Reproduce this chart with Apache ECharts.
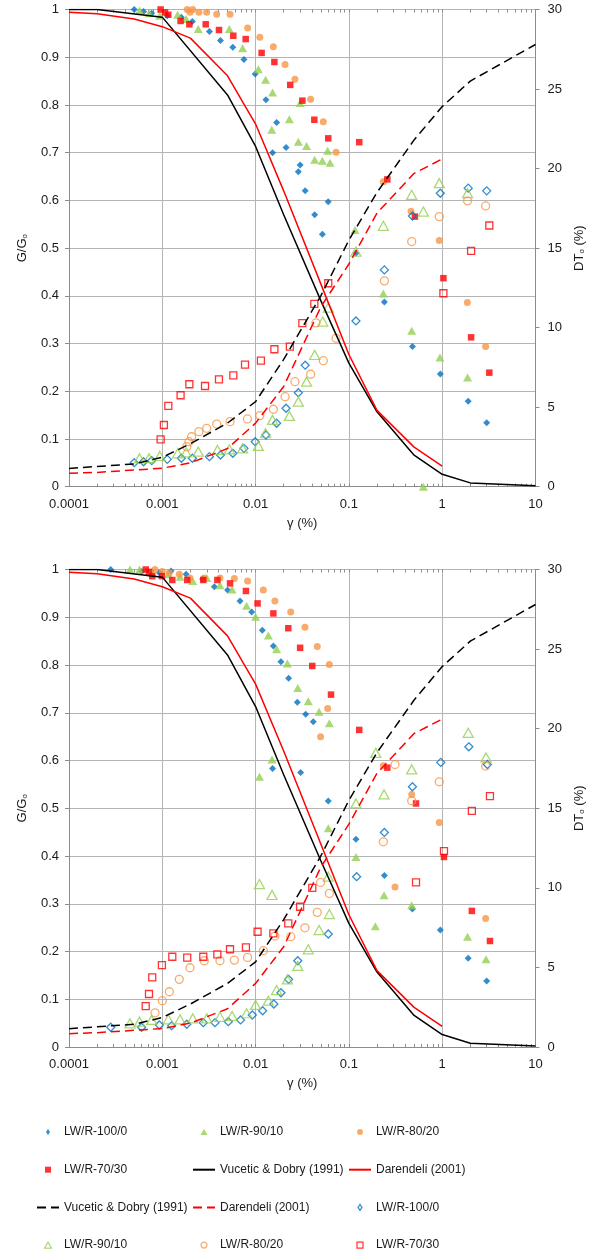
<!DOCTYPE html>
<html>
<head>
<meta charset="utf-8">
<title>G/Go and DTo vs shear strain</title>
<script src="https://cdn.jsdelivr.net/npm/echarts@6/dist/echarts.min.js"></script>
<style>
  html, body { margin: 0; padding: 0; background: #fff; }
  #chart { width: 596px; height: 1255px; }
</style>
</head>
<body>
<div id="chart"></div>
<script>
// axis ticks
var xTicks = [0.0001, 0.001, 0.01, 0.1, 1, 10]
var minorSteps = [2, 3, 4, 5, 6, 7, 8, 9]

// reference curves (shared by both panels)
var vdGStrain = [0.0001, 0.0002, 0.001, 0.005, 0.01, 0.02, 0.05, 0.1, 0.2, 0.5, 1, 2, 10]
var vdG = [1.0, 1.0, 0.984, 0.821, 0.713, 0.57, 0.39, 0.259, 0.157, 0.066, 0.026, 0.008, 0.002]
var vdDStrain = [0.0001, 0.0005, 0.001, 0.002, 0.005, 0.01, 0.02, 0.05, 0.1, 0.2, 0.5, 1, 2, 10]
var vdD = [1.15, 1.43, 1.85, 2.7, 4.0, 5.35, 8.0, 12.0, 15.5, 18.5, 21.8, 23.9, 25.5, 27.8]
var darStrain = [0.0001, 0.0002, 0.0005, 0.001, 0.002, 0.005, 0.01, 0.02, 0.05, 0.1, 0.2, 0.5, 1]
var darG = [0.994, 0.991, 0.980, 0.964, 0.940, 0.861, 0.760, 0.62, 0.425, 0.277, 0.16, 0.083, 0.043]
var darD = [0.84, 0.9, 1.05, 1.16, 1.5, 2.4, 4.0, 6.3, 11.3, 14.0, 17.2, 19.7, 20.6]

// top panel: [strain %, G/Go] and [strain %, DTo %]
var topG100 = [[0.0005, 1.0], [0.00063, 0.996], [0.00077, 0.992], [0.00113, 0.987], [0.0016, 0.984], [0.0021, 0.975], [0.0032, 0.954], [0.0042, 0.935], [0.0057, 0.921], [0.0075, 0.895], [0.0099, 0.865], [0.0129, 0.811], [0.0168, 0.763], [0.0152, 0.700], [0.0212, 0.711], [0.0287, 0.660], [0.030, 0.674], [0.034, 0.620], [0.043, 0.570], [0.052, 0.529], [0.060, 0.597], [0.119, 0.489], [0.24, 0.387], [0.48, 0.294], [0.955, 0.236], [1.9, 0.179], [3.0, 0.134]]
var topG90 = [[0.00057, 0.998], [0.00072, 0.992], [0.00094, 0.987], [0.00146, 0.989], [0.0018, 0.980], [0.00243, 0.959], [0.00523, 0.959], [0.00726, 0.919], [0.0107, 0.875], [0.0128, 0.853], [0.0152, 0.826], [0.0149, 0.748], [0.023, 0.770], [0.0287, 0.723], [0.030, 0.804], [0.0352, 0.714], [0.043, 0.685], [0.0519, 0.683], [0.0592, 0.704], [0.0627, 0.679], [0.116, 0.538], [0.234, 0.405], [0.471, 0.327], [0.628, 0.0], [0.946, 0.271], [1.87, 0.229]]
var topG80 = [[0.00185, 1.0], [0.00198, 0.994], [0.00212, 1.0], [0.00247, 0.994], [0.00299, 0.994], [0.00383, 0.990], [0.00532, 0.990], [0.00822, 0.961], [0.0111, 0.942], [0.0155, 0.922], [0.0207, 0.885], [0.0264, 0.854], [0.0389, 0.812], [0.0532, 0.765], [0.0728, 0.701], [0.234, 0.639], [0.463, 0.577], [0.93, 0.516], [1.86, 0.386], [2.92, 0.294]]
var topG70 = [[0.00096, 1.0], [0.00107, 0.994], [0.00116, 0.989], [0.00157, 0.976], [0.00195, 0.969], [0.00292, 0.969], [0.00405, 0.957], [0.00577, 0.945], [0.00783, 0.938], [0.0116, 0.909], [0.0159, 0.890], [0.0235, 0.842], [0.0317, 0.809], [0.0426, 0.769], [0.0601, 0.730], [0.129, 0.722], [0.258, 0.644], [0.51, 0.566], [1.03, 0.437], [2.04, 0.313], [3.2, 0.239]]
var topD100 = [[0.0005, 1.51], [0.00063, 1.57], [0.00077, 1.64], [0.00113, 1.72], [0.0016, 1.79], [0.0021, 1.79], [0.0032, 1.89], [0.0042, 1.99], [0.0057, 2.1], [0.0075, 2.41], [0.0099, 2.83], [0.0129, 3.25], [0.0168, 3.99], [0.0212, 4.93], [0.0287, 5.91], [0.034, 7.64], [0.119, 10.42], [0.24, 13.63], [0.48, 17.02], [0.955, 18.45], [1.9, 18.77], [3.0, 18.6]]
var topD90 = [[0.00057, 1.79], [0.00072, 1.79], [0.00094, 1.93], [0.00146, 2.1], [0.0018, 2.16], [0.00243, 2.2], [0.0039, 2.31], [0.00523, 2.35], [0.00726, 2.41], [0.0107, 2.56], [0.0128, 3.36], [0.0152, 4.2], [0.023, 4.45], [0.0287, 5.35], [0.0352, 6.6], [0.043, 8.28], [0.0524, 10.38], [0.0601, 11.26], [0.119, 14.78], [0.234, 16.4], [0.471, 18.35], [0.628, 17.3], [0.93, 19.08], [1.87, 18.45]]
var topD80 = [[0.00183, 2.52], [0.00193, 2.83], [0.00206, 3.14], [0.00247, 3.46], [0.00299, 3.67], [0.00383, 3.94], [0.00532, 4.09], [0.00817, 4.26], [0.0111, 4.47], [0.0155, 4.87], [0.0207, 5.66], [0.0264, 6.6], [0.0389, 7.07], [0.0444, 10.3], [0.0532, 7.92], [0.0728, 9.33], [0.24, 12.94], [0.471, 15.41], [0.93, 16.98], [1.87, 17.97], [2.92, 17.65]]
var topD70 = [[0.00096, 2.98], [0.00104, 3.88], [0.00116, 5.08], [0.00157, 5.75], [0.00195, 6.44], [0.00287, 6.33], [0.00405, 6.75], [0.00577, 7.0], [0.0077, 7.67], [0.0114, 7.92], [0.0159, 8.64], [0.0233, 8.8], [0.0317, 10.28], [0.0426, 11.49], [0.0601, 12.79], [1.03, 12.16], [2.04, 14.82], [3.2, 16.42]]

// bottom panel
var botG100 = [[0.00028, 1.0], [0.0006, 0.996], [0.00093, 0.993], [0.00124, 0.997], [0.0018, 0.99], [0.0027, 0.98], [0.00361, 0.964], [0.00501, 0.957], [0.0068, 0.934], [0.00908, 0.911], [0.0118, 0.873], [0.0155, 0.840], [0.0187, 0.807], [0.0226, 0.772], [0.028, 0.722], [0.0152, 0.583], [0.0304, 0.575], [0.0344, 0.697], [0.0415, 0.681], [0.0601, 0.515], [0.119, 0.435], [0.24, 0.359], [0.479, 0.289], [0.955, 0.245], [1.9, 0.186], [3.0, 0.138]]
var botG90 = [[0.00045, 1.0], [0.00057, 1.0], [0.00077, 0.993], [0.00116, 0.99], [0.00155, 0.985], [0.00212, 0.976], [0.003, 0.982], [0.00415, 0.967], [0.0056, 0.958], [0.008, 0.924], [0.01, 0.901], [0.0137, 0.862], [0.0168, 0.833], [0.0219, 0.803], [0.0283, 0.752], [0.011, 0.566], [0.015, 0.602], [0.0367, 0.724], [0.0479, 0.702], [0.0617, 0.678], [0.0601, 0.458], [0.119, 0.398], [0.192, 0.253], [0.238, 0.318], [0.471, 0.297], [1.87, 0.231], [2.95, 0.184]]
var botG80 = [[0.000835, 1.0], [0.001, 0.996], [0.00119, 0.993], [0.00152, 0.99], [0.00198, 0.982], [0.0028, 0.982], [0.00415, 0.982], [0.00592, 0.981], [0.0082, 0.976], [0.0121, 0.957], [0.0161, 0.934], [0.0238, 0.911], [0.0338, 0.879], [0.0458, 0.839], [0.0617, 0.801], [0.0592, 0.709], [0.0497, 0.650], [0.234, 0.589], [0.312, 0.335], [0.471, 0.529], [0.93, 0.470], [2.92, 0.269]]
var botG70 = [[0.000664, 1.0], [0.00072, 0.995], [0.00078, 0.986], [0.00099, 0.986], [0.00128, 0.978], [0.00185, 0.978], [0.00275, 0.978], [0.00389, 0.978], [0.00532, 0.971], [0.00788, 0.955], [0.0105, 0.929], [0.0155, 0.908], [0.0224, 0.877], [0.03, 0.836], [0.0405, 0.798], [0.0643, 0.738], [0.129, 0.664], [0.258, 0.585], [0.524, 0.510], [1.045, 0.398], [2.08, 0.285], [3.25, 0.222]]
var botD100 = [[0.00028, 1.24], [0.0006, 1.24], [0.00093, 1.38], [0.00126, 1.34], [0.00183, 1.43], [0.00275, 1.53], [0.00367, 1.53], [0.0051, 1.59], [0.0069, 1.70], [0.00922, 2.01], [0.0119, 2.28], [0.0157, 2.7], [0.0187, 3.41], [0.0226, 4.25], [0.0283, 5.42], [0.0601, 7.1], [0.121, 10.7], [0.24, 13.48], [0.48, 16.35], [0.965, 17.88], [1.93, 18.86], [3.05, 17.75]]
var botD90 = [[0.00045, 1.49], [0.00057, 1.59], [0.00077, 1.7], [0.00116, 1.74], [0.00155, 1.74], [0.00212, 1.8], [0.003, 1.8], [0.00415, 1.9], [0.0056, 1.95], [0.008, 2.12], [0.01, 2.64], [0.0137, 2.91], [0.0168, 3.58], [0.0219, 4.25], [0.0283, 5.09], [0.011, 10.24], [0.015, 9.55], [0.0367, 6.14], [0.0479, 7.35], [0.0617, 8.35], [0.0601, 10.7], [0.119, 15.3], [0.194, 18.48], [0.238, 15.87], [0.471, 17.44], [1.9, 19.74], [2.95, 18.19]]
var botD80 = [[0.000835, 2.15], [0.001, 2.91], [0.00119, 3.47], [0.00152, 4.25], [0.00198, 4.98], [0.00282, 5.42], [0.00415, 5.42], [0.00592, 5.46], [0.0082, 5.63], [0.0121, 6.05], [0.0161, 6.97], [0.0238, 6.93], [0.0338, 7.49], [0.0458, 8.46], [0.0617, 9.65], [0.0497, 10.34], [0.234, 12.89], [0.312, 17.75], [0.471, 15.47], [0.93, 16.66], [2.92, 17.65]]
var botD70 = [[0.000664, 2.57], [0.00072, 3.33], [0.00078, 4.38], [0.00099, 5.15], [0.00128, 5.67], [0.00185, 5.61], [0.00275, 5.67], [0.00389, 5.82], [0.00532, 6.14], [0.00788, 6.26], [0.0105, 7.24], [0.0155, 7.14], [0.0224, 7.77], [0.03, 8.81], [0.0405, 10.0], [0.524, 10.34], [1.045, 12.31], [2.08, 14.84], [3.25, 15.76]]

var FONT = 'Liberation Sans'
var TEXT = '#1a1a1a'
var GRID_LINE = '#b4b4b4'
var AXIS_LINE = '#8c8c8c'

// all tick positions on the strain axis (decades + 2..9)
var allTicks = xTicks.slice()
xTicks.slice(0, -1).forEach(function (d) {
  minorSteps.forEach(function (m) { allTicks.push(+(d * m).toPrecision(3)) })
})

function pairs (xs, ys) {
  return xs.map(function (x, i) { return [x, ys[i]] })
}

function tickAxis (gi, inside) {
  return {
    gridIndex: gi,
    type: 'log',
    logBase: 10,
    min: 0.0001,
    max: 10,
    axisLine: { show: false },
    axisTick: { show: true, customValues: allTicks, length: 3, inside: inside, lineStyle: { color: AXIS_LINE } },
    axisLabel: { show: false },
    splitLine: { show: false }
  }
}

function xAxes (gi) {
  return [{
    gridIndex: gi,
    type: 'log',
    logBase: 10,
    min: 0.0001,
    max: 10,
    name: 'γ (%)',
    nameLocation: 'middle',
    nameGap: 30,
    nameTextStyle: { fontFamily: FONT, fontSize: 13, color: TEXT },
    axisLine: { lineStyle: { color: AXIS_LINE } },
    axisTick: { show: false },
    axisLabel: {
      fontFamily: FONT, fontSize: 13, color: TEXT, margin: 11,
      formatter: function (v) { return String(+(+v).toPrecision(1)) }
    },
    splitLine: { show: true, lineStyle: { color: GRID_LINE } }
  }, tickAxis(gi, false), tickAxis(gi, true)]
}

function yAxes (gi) {
  return [{
    gridIndex: gi,
    type: 'value',
    min: 0,
    max: 1,
    interval: 0.1,
    position: 'left',
    name: 'G/G{s|o}',
    nameLocation: 'middle',
    nameGap: 40,
    nameTextStyle: {
      fontFamily: FONT, fontSize: 13, color: TEXT,
      rich: { s: { fontFamily: FONT, fontSize: 8, color: TEXT, verticalAlign: 'bottom', padding: [5, 0, 0, 0] } }
    },
    axisLine: { show: true, lineStyle: { color: AXIS_LINE } },
    axisTick: { show: true, length: 4, lineStyle: { color: AXIS_LINE } },
    axisLabel: {
      fontFamily: FONT, fontSize: 13, color: TEXT, margin: 10,
      formatter: function (v) { return String(Math.round(v * 10) / 10) }
    },
    splitLine: { show: true, lineStyle: { color: GRID_LINE } }
  }, {
    gridIndex: gi,
    type: 'value',
    min: 0,
    max: 30,
    interval: 5,
    position: 'right',
    name: 'DT{s|o} (%)',
    nameLocation: 'middle',
    nameGap: 36,
    nameTextStyle: {
      fontFamily: FONT, fontSize: 13, color: TEXT,
      rich: { s: { fontFamily: FONT, fontSize: 8, color: TEXT, verticalAlign: 'bottom', padding: [5, 0, 0, 0] } }
    },
    axisLine: { show: true, lineStyle: { color: AXIS_LINE } },
    axisTick: { show: true, length: 4, lineStyle: { color: AXIS_LINE } },
    axisLabel: { fontFamily: FONT, fontSize: 13, color: TEXT, margin: 12 },
    splitLine: { show: false }
  }]
}

var markers = {
  '100/0': { symbol: 'diamond', color: '#0070c0', size: [7, 7], hsize: [8, 8], icon: 'path://M2,0L4,3L2,6L0,3Z' },
  '90/10': { symbol: 'triangle', color: '#92d050', size: [9, 8], hsize: [10, 9], icon: 'path://M3.5,0L7,6L0,6Z' },
  '80/20': { symbol: 'circle', color: '#f79646', size: 7, hsize: 8, icon: 'path://M3,0A3,3,0,1,1,3,6A3,3,0,1,1,3,0Z' },
  '70/30': { symbol: 'rect', color: '#ff0000', size: 6.5, hsize: 7, icon: 'path://M0,0H6V6H0Z' }
}

function dots (name, key, data, xi, yi, hollow) {
  var m = markers[key]
  return {
    name: name,
    type: 'scatter',
    xAxisIndex: xi,
    yAxisIndex: yi,
    data: data,
    symbol: m.symbol,
    symbolSize: hollow ? m.hsize : m.size,
    itemStyle: hollow
      ? { color: 'rgba(255,255,255,0)', borderColor: m.color, borderWidth: 1.3 }
      : { color: m.color, borderWidth: 0 },
    silent: true
  }
}

function curve (name, data, xi, yi, color, dashed) {
  return {
    name: name,
    type: 'line',
    xAxisIndex: xi,
    yAxisIndex: yi,
    data: data,
    symbol: 'none',
    lineStyle: { color: color, width: 1.5, type: dashed ? [9, 5] : 'solid' },
    itemStyle: { color: color },
    silent: true
  }
}

function panel (p, g) {
  var xi = p * 3
  var yl = p * 2
  var yr = p * 2 + 1
  return [
    dots('LW/R-100/0', '100/0', g[0], xi, yl, false),
    dots('LW/R-90/10', '90/10', g[1], xi, yl, false),
    dots('LW/R-80/20', '80/20', g[2], xi, yl, false),
    dots('LW/R-70/30', '70/30', g[3], xi, yl, false),
    curve('Vucetic & Dobry (1991)', pairs(vdGStrain, vdG), xi, yl, '#000000', false),
    curve('Darendeli (2001)', pairs(darStrain, darG), xi, yl, '#ff0000', false),
    curve('Vucetic & Dobry (1991) ', pairs(vdDStrain, vdD), xi, yr, '#000000', true),
    curve('Darendeli (2001) ', pairs(darStrain, darD), xi, yr, '#ff0000', true),
    dots('LW/R-100/0 ', '100/0', g[4], xi, yr, true),
    dots('LW/R-90/10 ', '90/10', g[5], xi, yr, true),
    dots('LW/R-80/20 ', '80/20', g[6], xi, yr, true),
    dots('LW/R-70/30 ', '70/30', g[7], xi, yr, true)
  ]
}

// legend items: [series name, marker key or null for a line]
function mark (name, key) { return { name: name, icon: markers[key].icon } }
function line (name) { return { name: name, itemStyle: { opacity: 0 } } }
var legendCols = [
  [mark('LW/R-100/0', '100/0'), mark('LW/R-70/30', '70/30'), line('Vucetic & Dobry (1991) '), mark('LW/R-90/10 ', '90/10')],
  [mark('LW/R-90/10', '90/10'), line('Vucetic & Dobry (1991)'), line('Darendeli (2001) '), mark('LW/R-80/20 ', '80/20')],
  [mark('LW/R-80/20', '80/20'), line('Darendeli (2001)'), mark('LW/R-100/0 ', '100/0'), mark('LW/R-70/30 ', '70/30')]
]
var legendLeft = [36, 192, 348]

var myChart = echarts.init(document.getElementById('chart'), null, { renderer: 'canvas' })
var option = {
  animation: false,
  backgroundColor: '#ffffff',
  grid: [
    { left: 69, top: 9.5, width: 466.5, height: 477.2, outerBoundsMode: 'none' },
    { left: 69, top: 569.5, width: 466.5, height: 477.5, outerBoundsMode: 'none' }
  ],
  xAxis: xAxes(0).concat(xAxes(1)),
  yAxis: yAxes(0).concat(yAxes(1)),
  legend: legendCols.map(function (items, i) {
    return {
      orient: 'vertical',
      left: legendLeft[i],
      top: 1124,
      padding: 0,
      itemGap: 21.7,
      itemWidth: 22,
      itemHeight: 6,
      selectedMode: false,
      itemStyle: { borderWidth: 1.2 },
      lineStyle: { width: 2 },
      data: items,
      textStyle: { fontFamily: FONT, fontSize: 12, lineHeight: 16, color: TEXT }
    }
  }),
  series: panel(0, [topG100, topG90, topG80, topG70, topD100, topD90, topD80, topD70])
    .concat(panel(1, [botG100, botG90, botG80, botG70, botD100, botD90, botD80, botD70]))
}
myChart.setOption(option)
</script>
</body>
</html>
